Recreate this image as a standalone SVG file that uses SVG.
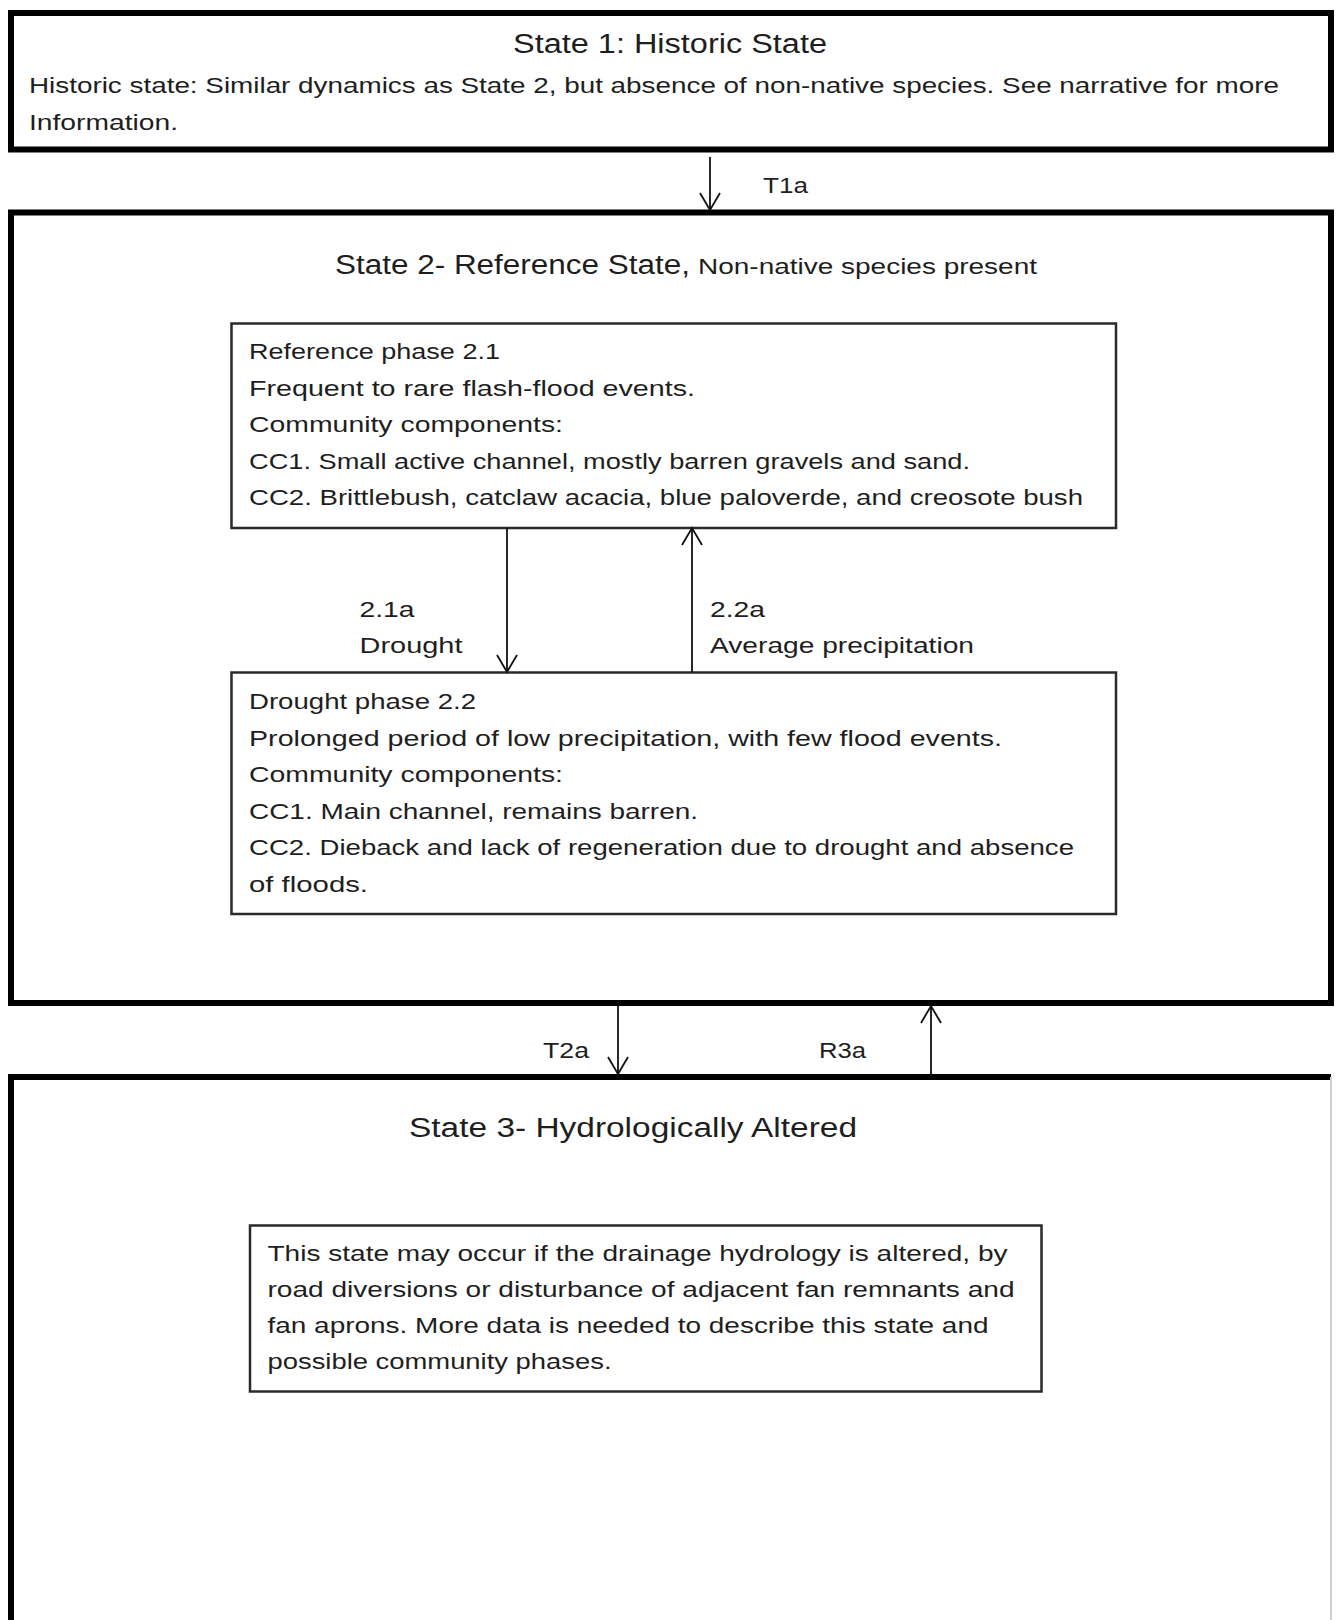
<svg xmlns="http://www.w3.org/2000/svg" width="1337" height="1620" viewBox="0 0 1337 1620">
<style>
  .state { fill: none; stroke: #000; stroke-width: 6; }
  .phase { fill: #fff; stroke: #2a2a2a; stroke-width: 2.5; }
  .title { font-family: "Liberation Sans", Arial, sans-serif; font-size: 27px; fill: #1e1e1e; }
  .body { font-family: "Liberation Sans", Arial, sans-serif; font-size: 22px; fill: #1e1e1e; }
  .conn { stroke: #111; stroke-width: 1.8; fill: none; }
</style>
<defs>
  <marker id="vhead" markerUnits="userSpaceOnUse" viewBox="-20 -12 22 24" markerWidth="22" markerHeight="24" refX="0" refY="0" orient="auto">
    <path d="M-17,-10 L0,0 L-17,10" fill="none" stroke="#111" stroke-width="1.8"/>
  </marker>
</defs>
<rect x="0" y="0" width="1337" height="1620" fill="#fff"/>

<g id="state1">
  <rect class="state" x="11" y="13" width="1320" height="136.5"/>
  <text class="title" x="513" y="53" textLength="314" lengthAdjust="spacingAndGlyphs">State 1: Historic State</text>
  <text class="body" x="29" y="92.5" textLength="1250" lengthAdjust="spacingAndGlyphs">Historic state: Similar dynamics as State 2, but absence of non-native species.  See narrative for more</text>
  <text class="body" x="29" y="129.5" textLength="149" lengthAdjust="spacingAndGlyphs">Information.</text>
</g>

<g id="state2">
  <rect class="state" x="11" y="212.5" width="1320" height="790.5"/>
  <text x="335" y="274"><tspan class="title" font-size="28px" textLength="355" lengthAdjust="spacingAndGlyphs">State 2- Reference State,</tspan></text>
  <text class="body" x="698" y="274" textLength="339" lengthAdjust="spacingAndGlyphs">Non-native species present</text>
</g>

<g id="phase21">
  <rect class="phase" x="231.5" y="323.5" width="884.5" height="204.5"/>
  <text class="body" x="249" y="358.5" textLength="251" lengthAdjust="spacingAndGlyphs">Reference phase 2.1</text>
  <text class="body" x="249" y="395.5" textLength="446" lengthAdjust="spacingAndGlyphs">Frequent to rare flash-flood events.</text>
  <text class="body" x="249" y="432" textLength="314" lengthAdjust="spacingAndGlyphs">Community components:</text>
  <text class="body" x="249" y="468.5" textLength="721" lengthAdjust="spacingAndGlyphs">CC1. Small active channel, mostly barren gravels and sand.</text>
  <text class="body" x="249" y="505" textLength="834" lengthAdjust="spacingAndGlyphs">CC2. Brittlebush, catclaw acacia, blue paloverde, and creosote bush</text>
</g>

<g id="phase22">
  <rect class="phase" x="231.5" y="672.5" width="884.5" height="241.5"/>
  <text class="body" x="249" y="709" textLength="227" lengthAdjust="spacingAndGlyphs">Drought phase 2.2</text>
  <text class="body" x="249" y="745.5" textLength="753" lengthAdjust="spacingAndGlyphs">Prolonged period of low precipitation, with few flood events.</text>
  <text class="body" x="249" y="782" textLength="314" lengthAdjust="spacingAndGlyphs">Community components:</text>
  <text class="body" x="249" y="818.5" textLength="449" lengthAdjust="spacingAndGlyphs">CC1.  Main channel, remains barren.</text>
  <text class="body" x="249" y="855" textLength="825" lengthAdjust="spacingAndGlyphs">CC2. Dieback and lack of regeneration due to drought and absence</text>
  <text class="body" x="249" y="891.5" textLength="119" lengthAdjust="spacingAndGlyphs">of floods.</text>
</g>

<g id="state3">
  <path d="M11,1660 V1077 H1331" fill="none" stroke="#000" stroke-width="6"/>
  <path d="M1331,1077 V1660" fill="none" stroke="#d0d0d0" stroke-width="2"/>
  <text class="title" x="409" y="1136.5" textLength="448" lengthAdjust="spacingAndGlyphs">State 3- Hydrologically Altered</text>
</g>

<g id="state3note">
  <rect class="phase" x="250" y="1225.5" width="791.5" height="166"/>
  <text class="body" x="267.5" y="1260.5" textLength="740" lengthAdjust="spacingAndGlyphs">This state may occur if the drainage hydrology is altered, by</text>
  <text class="body" x="267.5" y="1297" textLength="747" lengthAdjust="spacingAndGlyphs">road diversions or disturbance of adjacent fan remnants and</text>
  <text class="body" x="267.5" y="1333" textLength="721" lengthAdjust="spacingAndGlyphs">fan aprons. More data is needed to describe this state and</text>
  <text class="body" x="267.5" y="1369" textLength="344" lengthAdjust="spacingAndGlyphs">possible community phases.</text>
</g>

<g id="connectors">
  <line class="conn" x1="710" y1="157" x2="710" y2="210" marker-end="url(#vhead)"/>
  <text class="body" x="763" y="193" textLength="45" lengthAdjust="spacingAndGlyphs">T1a</text>

  <line class="conn" x1="507" y1="528" x2="507" y2="672" marker-end="url(#vhead)"/>
  <text class="body" x="359.5" y="617" textLength="55" lengthAdjust="spacingAndGlyphs">2.1a</text>
  <text class="body" x="359.5" y="653" textLength="103" lengthAdjust="spacingAndGlyphs">Drought</text>

  <line class="conn" x1="692" y1="672" x2="692" y2="528" marker-end="url(#vhead)"/>
  <text class="body" x="710" y="617" textLength="55" lengthAdjust="spacingAndGlyphs">2.2a</text>
  <text class="body" x="710" y="653" textLength="264" lengthAdjust="spacingAndGlyphs">Average precipitation</text>

  <line class="conn" x1="618" y1="1006" x2="618" y2="1074" marker-end="url(#vhead)"/>
  <text class="body" x="543" y="1058" textLength="46" lengthAdjust="spacingAndGlyphs">T2a</text>

  <line class="conn" x1="931" y1="1074" x2="931" y2="1006" marker-end="url(#vhead)"/>
  <text class="body" x="819" y="1058" textLength="47" lengthAdjust="spacingAndGlyphs">R3a</text>
</g>
</svg>
